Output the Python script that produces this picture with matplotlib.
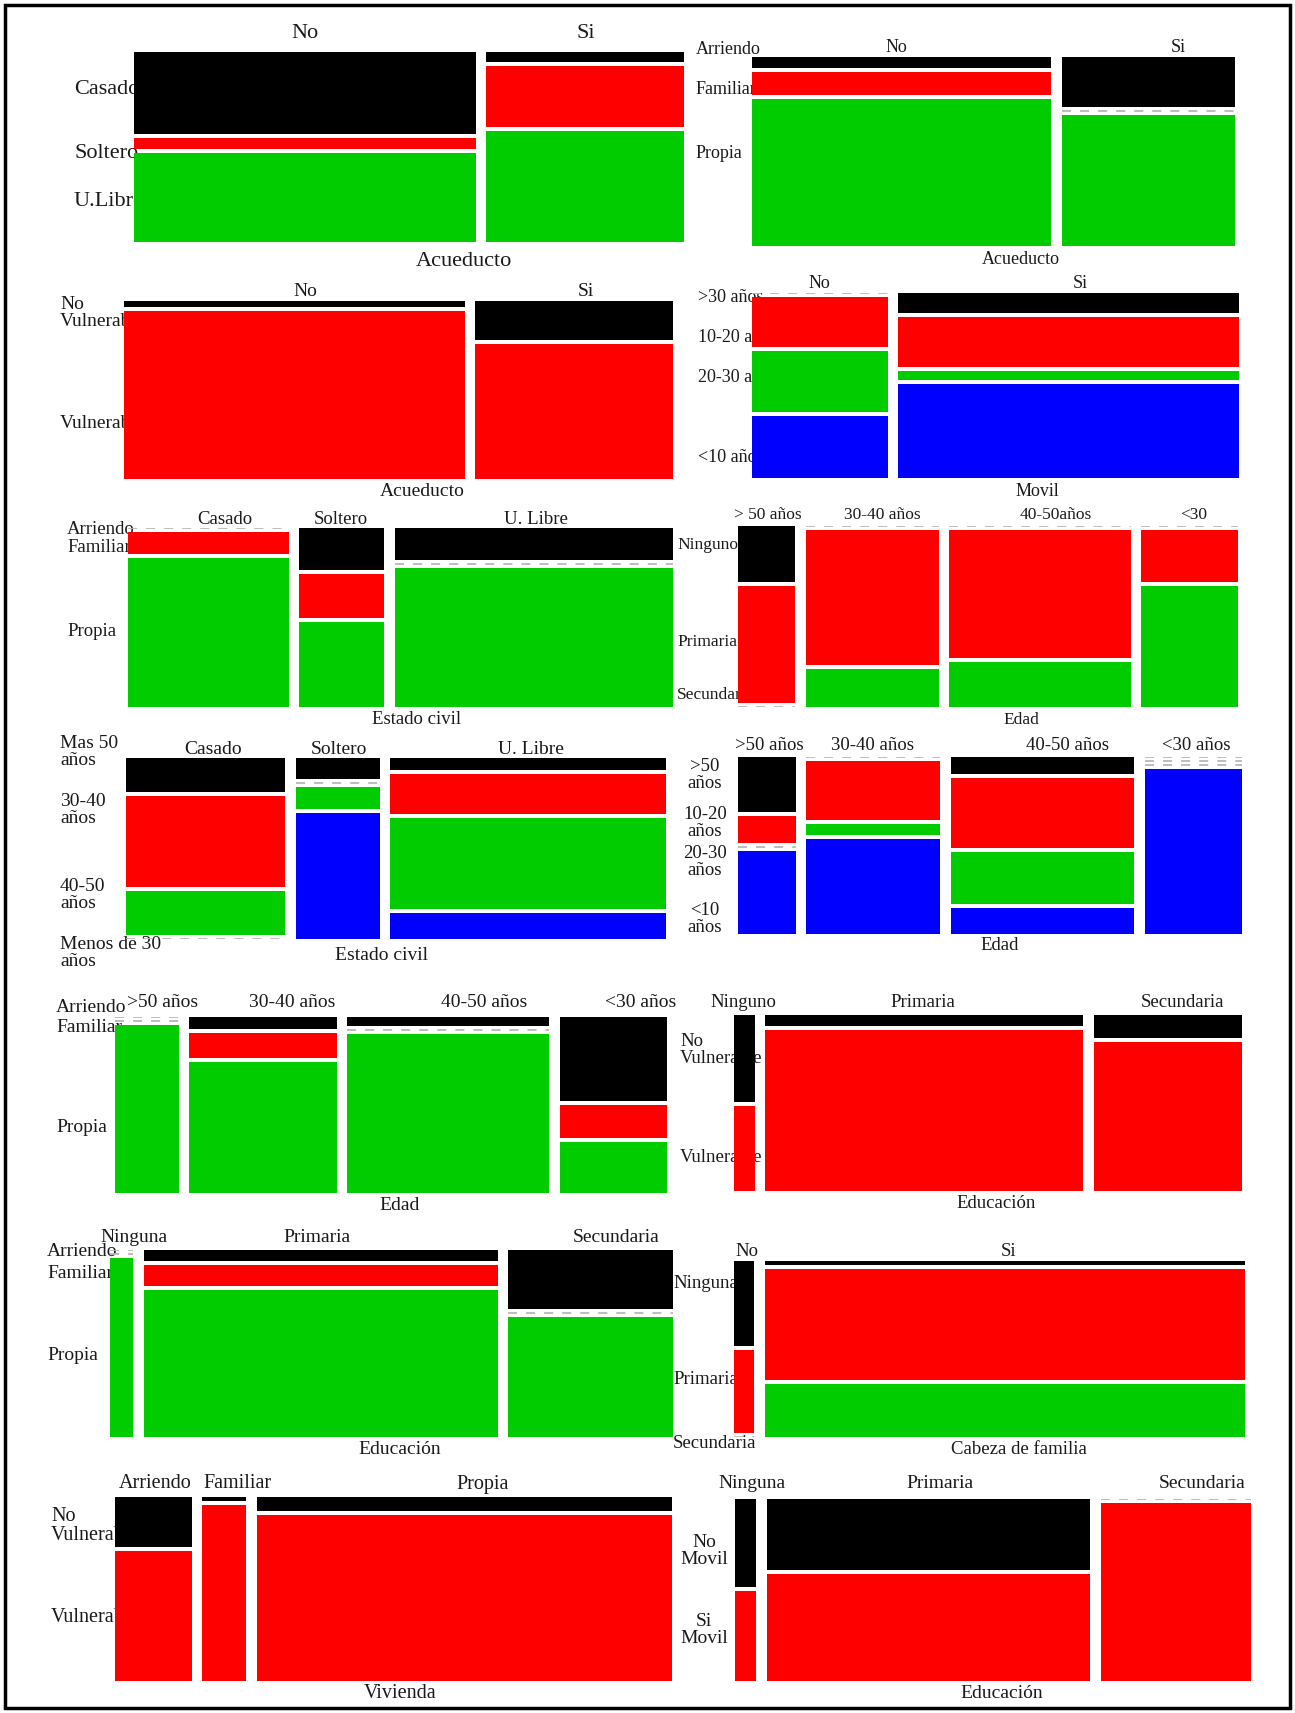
import matplotlib.pyplot as plt
from matplotlib.patches import Rectangle

plt.rcParams['font.family'] = ['Liberation Serif', 'DejaVu Serif']

W, H = 1295, 1713
PALETTE = ['#000000', '#ff0000', '#00cc00', '#0000ff']

# column shares (% of households)
acueducto_w = [63.3, 36.7]
civil_w = [30.7, 16.2, 53.1]
edad_w = [12.2, 28.4, 38.8, 20.6]
movil_w = [28.5, 71.5]
edu_w = [4.3, 65.3, 30.4]
cabeza_w = [4.0, 96.0]
vivienda_w = [14.3, 8.2, 77.5]

# shares inside each column, top row first (%)
civil_by_acueducto = [[44.8, 6.1, 49.1], [5.5, 33.5, 61.0]]
vivienda_by_acueducto = [[6.1, 12.7, 81.2], [27.5, 0, 72.5]]
vuln_by_acueducto = [[3.4, 96.6], [22.4, 77.6]]
tiempo_by_movil = [[0, 29.0, 35.3, 35.7], [11.6, 28.9, 5.2, 54.3]]
vivienda_by_civil = [[0, 12.8, 87.2], [24.7, 25.3, 50.0], [19.0, 0, 81.0]]
edu_by_edad = [[32.4, 67.6, 0], [0, 78.3, 21.7], [0, 73.7, 26.3], [0, 30.3, 69.7]]
edad_by_civil = [[19.9, 53.8, 26.3, 0], [12.3, 0, 12.9, 74.8], [7.1, 23.8, 53.6, 15.5]]
tiempo_by_edad = [[33.5, 15.9, 0, 50.6], [0, 35.8, 6.7, 57.5],
                  [10.3, 42.4, 31.5, 15.8], [0, 0, 0, 100]]
vivienda_by_edad = [[0, 0, 100], [7.1, 14.7, 78.2], [5.3, 0, 94.7], [50.0, 19.6, 30.4]]
vuln_by_edu = [[50.3, 49.7], [6.4, 93.6], [13.3, 86.7]]
vivienda_by_edu = [[0, 0, 100], [6.2, 11.9, 81.9], [33.0, 0, 67.0]]
edu_by_cabeza = [[50.6, 49.4, 0], [2.4, 66.1, 31.5]]
vuln_by_vivienda = [[28.0, 72.0], [2.0, 98.0], [7.9, 92.1]]
movil_by_edu = [[49.7, 50.3], [40.1, 59.9], [0, 100]]

# labels
si_no = ["No", "Si"]
civil_cols = ["Casado", "Soltero", "U. Libre"]
vivienda_rows = ["Arriendo", "Familiar", "Propia"]
vuln_rows = ["No\nVulnerable", "Vulnerable"]

panels = [
    dict(w=acueducto_w, s=civil_by_acueducto, box=(134, 52, 684, 242), fs=16,
         cols=si_no, col_x=[305, 586], col_y=33,
         rows=["Casado", "Soltero", "U.Libre"], row_y=[89, 153, 201], row_x=74,
         xlab="Acueducto", xlab_xy=(464, 262)),
    dict(w=acueducto_w, s=vivienda_by_acueducto, box=(752, 57, 1235, 246), fs=13,
         cols=si_no, col_x=[896, 1178], col_y=47,
         rows=vivienda_rows, row_y=[49, 89, 154], row_x=696,
         xlab="Acueducto", xlab_xy=(1021, 259)),
    dict(w=acueducto_w, s=vuln_by_acueducto, box=(124, 301, 673, 479), fs=14,
         cols=si_no, col_x=[305, 586], col_y=292,
         rows=vuln_rows, row_y=[313, 423], row_x=60,
         xlab="Acueducto", xlab_xy=(422, 492)),
    dict(w=movil_w, s=tiempo_by_movil, box=(752, 293, 1239, 478), fs=13,
         cols=si_no, col_x=[819, 1080], col_y=283,
         rows=[">30 años", "10-20 años", "20-30 años", "<10 años"],
         row_y=[297, 338, 378, 458], row_x=698,
         xlab="Movil", xlab_xy=(1037, 492)),
    dict(w=civil_w, s=vivienda_by_civil, box=(128, 528, 673, 707), fs=13.5,
         cols=civil_cols, col_x=[225, 341, 536], col_y=519,
         rows=vivienda_rows, row_y=[529, 547, 632], row_x=67,
         xlab="Estado civil", xlab_xy=(417, 720)),
    dict(w=edad_w, s=edu_by_edad, box=(738, 526, 1238, 707), fs=12.5,
         cols=["> 50 años", "30-40 años", "40-50años", "<30"],
         col_x=[768, 882, 1056, 1194], col_y=515,
         rows=["Ninguno", "Primaria", "Secundaria"], row_y=[545, 642, 695], row_x=677,
         xlab="Edad", xlab_xy=(1021, 720)),
    dict(w=civil_w, s=edad_by_civil, box=(126, 758, 666, 939), fs=14,
         cols=civil_cols, col_x=[213, 339, 531], col_y=749,
         rows=["Mas 50\naños", "30-40\naños", "40-50\naños", "Menos de 30\naños"],
         row_y=[752, 810, 895, 953], row_x=60,
         xlab="Estado civil", xlab_xy=(382, 955)),
    dict(w=edad_w, s=tiempo_by_edad, box=(738, 757, 1242, 934), fs=13.5,
         cols=[">50 años", "30-40 años", "40-50 años", "<30 años"],
         col_x=[769, 872, 1068, 1196], col_y=746,
         rows=[">50\naños", "10-20\naños", "20-30\naños", "<10\naños"],
         row_y=[775, 823, 862, 919], row_x=705, row_ha='center',
         xlab="Edad", xlab_xy=(1000, 945)),
    dict(w=edad_w, s=vivienda_by_edad, box=(115, 1017, 667, 1193), fs=14,
         cols=[">50 años", "30-40 años", "40-50 años", "<30 años"],
         col_x=[163, 292, 484, 641], col_y=1002,
         rows=vivienda_rows, row_y=[1007, 1028, 1127], row_x=56,
         xlab="Edad", xlab_xy=(400, 1205)),
    dict(w=edu_w, s=vuln_by_edu, box=(734, 1015, 1242, 1191), fs=13.5,
         cols=["Ninguno", "Primaria", "Secundaria"], col_x=[743, 923, 1182], col_y=1002,
         rows=vuln_rows, row_y=[1050, 1158], row_x=680,
         xlab="Educación", xlab_xy=(996, 1203)),
    dict(w=edu_w, s=vivienda_by_edu, box=(110, 1250, 673, 1437), fs=14,
         cols=["Ninguna", "Primaria", "Secundaria"], col_x=[134, 317, 616], col_y=1237,
         rows=vivienda_rows, row_y=[1252, 1273, 1355], row_x=47,
         xlab="Educación", xlab_xy=(400, 1450)),
    dict(w=cabeza_w, s=edu_by_cabeza, box=(734, 1261, 1245, 1437), fs=13.5,
         cols=si_no, col_x=[747, 1009], col_y=1251,
         rows=["Ninguna", "Primaria", "Secundaria"], row_y=[1283, 1379, 1443], row_x=673,
         xlab="Cabeza de familia", xlab_xy=(1019, 1450)),
    dict(w=vivienda_w, s=vuln_by_vivienda, box=(115, 1497, 672, 1681), fs=14.5,
         cols=vivienda_rows, col_x=[155, 238, 483], col_y=1484,
         rows=vuln_rows, row_y=[1526, 1617], row_x=51,
         xlab="Vivienda", xlab_xy=(400, 1694)),
    dict(w=edu_w, s=movil_by_edu, box=(735, 1499, 1251, 1681), fs=14,
         cols=["Ninguna", "Primaria", "Secundaria"], col_x=[752, 940, 1202], col_y=1484,
         rows=["No\nMovil", "Si\nMovil"], row_y=[1551, 1630], row_x=704, row_ha='center',
         xlab="Educación", xlab_xy=(1002, 1694)),
]

HGAP, VGAP = 10.5, 4.0  # pixels between tiles


def fx(x):
    return x / W


def fy(y):
    return 1 - y / H


def mosaic(ax, widths, shares, gx, gy):
    ncol = len(widths)
    avail_x = 1 - gx * (ncol - 1)
    x = 0.0
    for w, col in zip(widths, shares):
        cw = w / sum(widths) * avail_x
        nrow = len(col)
        avail_y = 1 - gy * (nrow - 1)
        y = 0.0
        for p, c in zip(col, PALETTE):
            h = p / sum(col) * avail_y
            if p == 0:
                # empty cell: dashed line
                ax.plot([x, x + cw], [y, y], color='#b8b8b8', lw=1.3,
                        ls=(0, (5, 5)), zorder=1, solid_capstyle='butt')
            else:
                ax.add_patch(Rectangle((x, y), cw, h, facecolor=c, edgecolor='none', zorder=1))
            y += h + gy
        x += cw + gx


fig = plt.figure(figsize=(W / 100, H / 100), dpi=100)
fig.patch.set_facecolor('white')

for p in panels:
    x0, y0, x1, y1 = p['box']
    ax = fig.add_axes([fx(x0), fy(y1), (x1 - x0) / W, (y1 - y0) / H])
    ax.set_xlim(0, 1)
    ax.set_ylim(1, 0)
    ax.axis('off')
    mosaic(ax, p['w'], p['s'], HGAP / (x1 - x0), VGAP / (y1 - y0))

    kw = dict(transform=fig.transFigure, fontsize=p['fs'], color='#1a1a1a',
              zorder=0.5, clip_on=False)
    for name, cx in zip(p['cols'], p['col_x']):
        ax.text(fx(cx), fy(p['col_y']), name, ha='center', va='center', **kw)
    ha = p.get('row_ha', 'left')
    for name, ry in zip(p['rows'], p['row_y']):
        ax.text(fx(p['row_x']), fy(ry), name, ha=ha, va='center',
                multialignment=ha, linespacing=1.0, **kw)
    lx, ly = p['xlab_xy']
    ax.text(fx(lx), fy(ly), p['xlab'], ha='center', va='center', **kw)

# outer frame
fig.patches.append(Rectangle((fx(5), fy(1708)), 1285 / W, 1703 / H, transform=fig.transFigure,
                             fill=False, edgecolor='black', lw=2.5))

fig.savefig('out.png', dpi=100)
